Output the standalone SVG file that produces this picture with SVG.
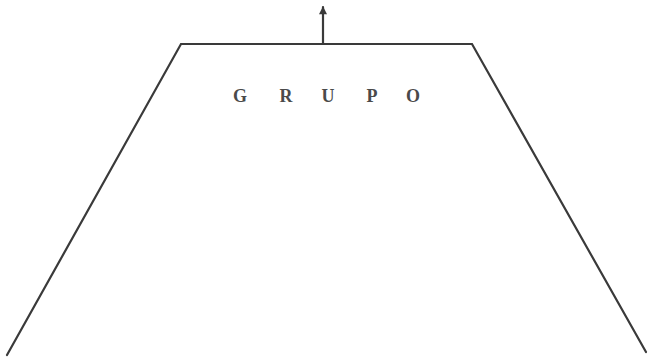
<svg xmlns="http://www.w3.org/2000/svg" width="648" height="359" viewBox="0 0 648 359">
<style>
.ln{fill:none;stroke:#3a3a3a;stroke-width:2.2;stroke-linecap:round;stroke-linejoin:miter}
.t{font-family:"Liberation Serif","DejaVu Serif",serif;font-weight:bold;font-size:18px;fill:#4a4a4a}
</style>
<defs>
<marker id="ah" viewBox="0 0 10 10" refX="9" refY="5" markerWidth="9" markerHeight="8" orient="auto" markerUnits="userSpaceOnUse">
<path d="M0,0 L10,5 L0,10 Z" fill="#3a3a3a"/>
</marker>
</defs>
<rect width="648" height="359" fill="#fff"/>
<g id="grupo">
<path class="ln" d="M7,355 L181,44 L472,44 L646,352"/>
<text class="t" x="240" y="102" text-anchor="middle">G</text>
<text class="t" x="286" y="102" text-anchor="middle">R</text>
<text class="t" x="328" y="102" text-anchor="middle">U</text>
<text class="t" x="372" y="102" text-anchor="middle">P</text>
<text class="t" x="413" y="102" text-anchor="middle">O</text>
</g>
<g id="connectors">
<line class="ln" x1="323" y1="44" x2="323" y2="7" marker-end="url(#ah)"/>
</g>
</svg>
